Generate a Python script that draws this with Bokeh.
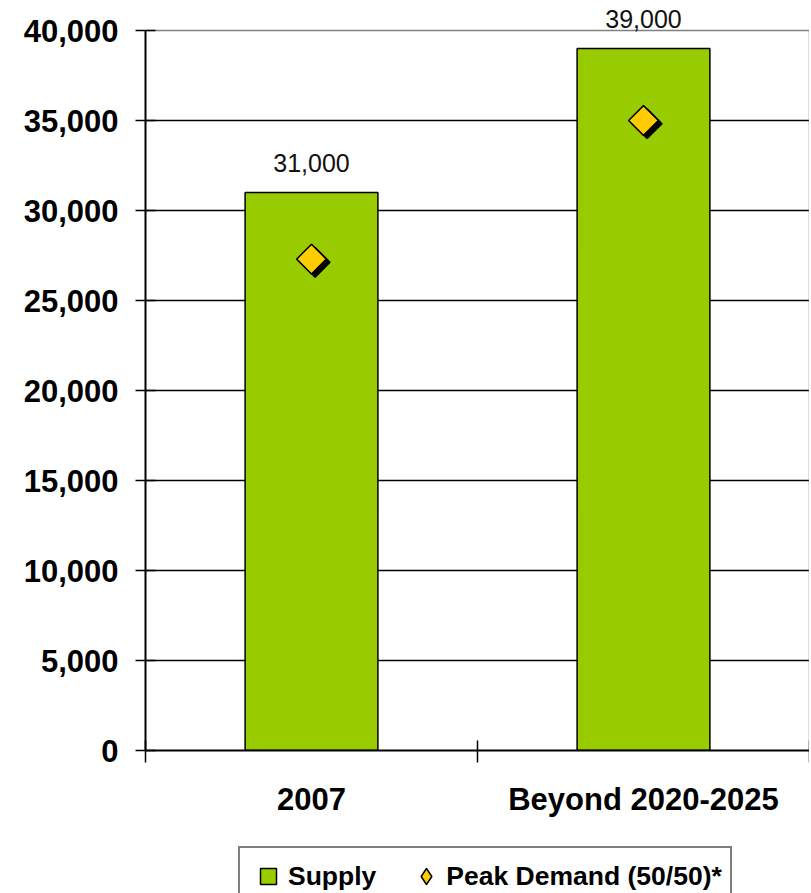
from bokeh.plotting import figure
from bokeh.layouts import column
from bokeh.models import (ColumnDataSource, FixedTicker, NumeralTickFormatter,
                          Range1d, Legend, LegendItem, LinearAxis, Grid)
from bokeh.core.properties import value
from bokeh.transform import dodge
from bokeh.embed import file_html
from bokeh.resources import INLINE
import math

categories = ["2007", "Beyond 2020-2025"]
supply = [31000, 39000]
peak_demand = [27300, 35000]
supply_labels = ["31,000", "39,000"]
y_ticks = list(range(0, 40001, 5000))

FONT = "Liberation Sans"
Y_MAX = y_ticks[-1]
PLOT_H = 720          # pixel height of the 0..40,000 band
HEADROOM = 25         # extra frame pixels above 40,000 for the value labels

xs = [i + 0.5 for i in range(len(categories))]
src = ColumnDataSource(dict(x=xs, supply=supply, demand=peak_demand,
                            lbl=supply_labels))

GREEN = "#99CC00"
YELLOW = "#FFCC00"

p = figure(frame_width=664, frame_height=PLOT_H + HEADROOM, output_backend="svg",
           toolbar_location=None,
           x_range=Range1d(0, len(categories)),
           y_range=Range1d(0, Y_MAX * (PLOT_H + HEADROOM) / PLOT_H),
           min_border_left=145, min_border_right=0, min_border_top=30 - HEADROOM,
           min_border_bottom=75)

p.background_fill_color = "white"
p.border_fill_color = "white"
p.outline_line_color = None

# grid
p.xgrid.grid_line_color = None
p.ygrid.ticker = FixedTicker(ticks=y_ticks[1:-1])
p.ygrid.grid_line_color = "black"
p.ygrid.grid_line_width = 1.5
top_grid = Grid(dimension=1, ticker=FixedTicker(ticks=[Y_MAX]),
                grid_line_color="#808080", grid_line_width=1.5)
p.add_layout(top_grid)

p.vbar(x="x", top="supply", width=0.4, bottom=0, source=src,
       fill_color=GREEN, line_color="black", line_width=1.5)

p.text(x="x", y="supply", text="lbl", source=src, text_align="center",
       text_baseline="alphabetic", y_offset=-30, text_font_size="25px",
       text_font=value(FONT), text_color="#111111")

# shadow for diamonds
p.scatter(x=dodge("x", 0.011), y=dodge("demand", -180), source=src,
          marker="square", angle=math.pi / 4, size=21,
          fill_color="black", line_color="black", line_width=1.5)
p.scatter(x="x", y="demand", source=src, marker="square",
          angle=math.pi / 4, size=21, fill_color=YELLOW,
          line_color="black", line_width=1.5)

# axes
xa = p.xaxis[0]
xa.ticker = FixedTicker(ticks=xs, minor_ticks=list(range(len(categories) + 1)))
xa.major_label_overrides = {x: c for x, c in zip(xs, categories)}
xa.major_tick_line_color = None
xa.minor_tick_line_color = "black"
xa.minor_tick_line_width = 1.5
xa.minor_tick_in = 10
xa.minor_tick_out = 12
xa.axis_line_color = "black"
xa.axis_line_width = 2
xa.major_label_text_font = FONT
xa.major_label_text_font_style = "bold"
xa.major_label_text_font_size = "31px"
xa.major_label_text_color = "black"
xa.major_label_standoff = 19

ya = p.yaxis[0]
ya.bounds = (0, Y_MAX)
ya.ticker = FixedTicker(ticks=y_ticks)
ya.formatter = NumeralTickFormatter(format="0,0")
ya.minor_tick_line_color = None
ya.major_tick_line_color = "black"
ya.major_tick_line_width = 1.5
ya.major_tick_in = 10
ya.major_tick_out = 10
ya.axis_line_color = "black"
ya.axis_line_width = 2
ya.major_label_text_font = FONT
ya.major_label_text_font_style = "bold"
ya.major_label_text_font_size = "31px"
ya.major_label_text_color = "black"
ya.major_label_standoff = 17

# gray right border of the plot area (0..40,000 only)
right_axis = LinearAxis(bounds=(0, Y_MAX), ticker=FixedTicker(ticks=[]),
                        axis_line_color="#808080", axis_line_width=1.5,
                        major_tick_line_color=None, minor_tick_line_color=None,
                        major_label_standoff=0)
p.add_layout(right_axis, "right")

# ---- legend strip (its own glyphs sit outside its visible ranges) ----
LEG_H = 68
lf = figure(frame_width=811, frame_height=LEG_H, output_backend="svg",
            toolbar_location=None, x_axis_location=None, y_axis_location=None,
            x_range=Range1d(100, 101), y_range=Range1d(100000, 100001),
            min_border=0)
lf.outline_line_color = None
lf.xgrid.grid_line_color = None
lf.ygrid.grid_line_color = None
l_sup = lf.scatter(x="x", y="supply", source=src, marker="square", size=17,
                   fill_color=GREEN, line_color="black", line_width=1.5)
l_dem = lf.scatter(x="x", y="demand", source=src, marker="diamond", size=17,
                   fill_color=YELLOW, line_color="black", line_width=1.5)

legend = Legend(items=[LegendItem(label="Supply", renderers=[l_sup]),
                       LegendItem(label="Peak Demand (50/50)*", renderers=[l_dem])],
                location=(238, -13),
                orientation="horizontal",
                border_line_color="black", border_line_width=2,
                background_fill_color="white", background_fill_alpha=1,
                label_text_font=FONT, label_text_font_style="bold",
                label_text_font_size="26.5px", label_text_color="black",
                glyph_width=40, glyph_height=40, label_standoff=0,
                spacing=30, padding=8, margin=0)
lf.add_layout(legend, "center")

layout = column(p, lf, spacing=0)
open("out.html", "w").write(file_html(layout, INLINE))
